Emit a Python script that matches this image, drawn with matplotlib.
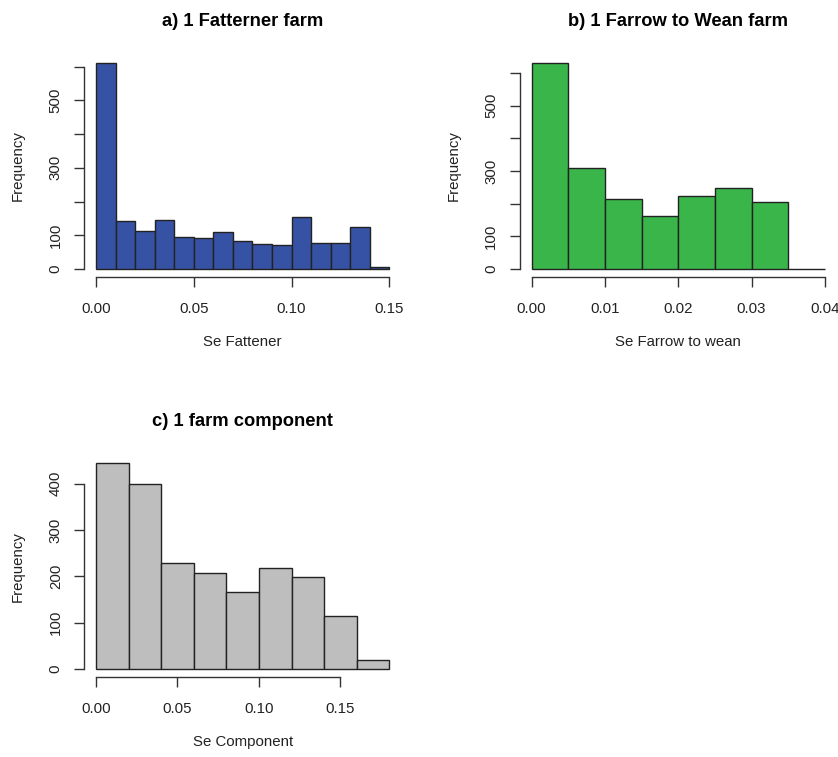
import numpy as np
import matplotlib.pyplot as plt

plt.rcParams["font.family"] = ["Liberation Sans", "DejaVu Sans"]

# a) fattener farm, bins of 0.01
fat_edges = [0.00, 0.01, 0.02, 0.03, 0.04, 0.05, 0.06, 0.07, 0.08,
             0.09, 0.10, 0.11, 0.12, 0.13, 0.14, 0.15]
fat_counts = [611, 143, 114, 146, 96, 92, 110, 82, 75, 71, 153, 78, 78, 124, 7]

# b) farrow to wean farm, bins of 0.005
ftw_edges = [0.000, 0.005, 0.010, 0.015, 0.020, 0.025, 0.030, 0.035, 0.040]
ftw_counts = [630, 310, 213, 162, 224, 247, 206, 0]

# c) farm component, bins of 0.02
comp_edges = [0.00, 0.02, 0.04, 0.06, 0.08, 0.10, 0.12, 0.14, 0.16, 0.18]
comp_counts = [444, 399, 228, 208, 166, 219, 199, 114, 19]

panels = [
    ("a) 1 Fatterner farm", "Se Fattener", fat_edges, fat_counts, "#3652a4",
     [0.00, 0.05, 0.10, 0.15], ["0.00", "0.05", "0.10", "0.15"],
     [0, 100, 200, 300, 400, 500, 600], ["0", "100", "", "300", "", "500", ""],
     [84.3, 54.8]),
    ("b) 1 Farrow to Wean farm", "Se Farrow to wean", ftw_edges, ftw_counts, "#3ab54a",
     [0.00, 0.01, 0.02, 0.03, 0.04], ["0.00", "0.01", "0.02", "0.03", "0.04"],
     [0, 100, 200, 300, 400, 500, 600], ["0", "100", "", "300", "", "500", ""],
     [519.9, 54.8]),
    ("c) 1 farm component", "Se Component", comp_edges, comp_counts, "#bebebe",
     [0.00, 0.05, 0.10, 0.15], ["0.00", "0.05", "0.10", "0.15"],
     [0, 100, 200, 300, 400], ["0", "100", "200", "300", "400"],
     [84.3, 455.0]),
]

W, H = 838, 757
fig = plt.figure(figsize=(W / 100, H / 100), dpi=100)

aw, ah = 316.7, 222.4
for title, xlabel, edges, counts, color, xt, xtl, yt, ytl, (left, top) in panels:
    ax = fig.add_axes([left / W, 1 - (top + ah) / H, aw / W, ah / H])
    ax.hist(edges[:-1], bins=edges, weights=counts, color=color,
            edgecolor="#222222", linewidth=1.0)

    # R style axis extension of 4 %
    x0, x1 = min(edges[0], xt[0]), max(edges[-1], xt[-1])
    dx = 0.04 * (x1 - x0)
    ymax = max(counts)
    ax.set_xlim(x0 - dx, x1 + dx)
    ax.set_ylim(-0.04 * ymax, 1.04 * ymax)

    for s in ["top", "right"]:
        ax.spines[s].set_visible(False)
    ax.spines["bottom"].set_bounds(xt[0], xt[-1])
    ax.spines["left"].set_bounds(yt[0], yt[-1])
    for s in ["bottom", "left"]:
        ax.spines[s].set_color("#333333")
        ax.spines[s].set_linewidth(1.0)

    ax.set_xticks(xt)
    ax.set_xticklabels(xtl)
    ax.set_yticks(yt)
    ax.set_yticklabels(ytl, rotation=90, va="center")
    ax.tick_params(axis="both", direction="out", length=7.5, width=1.0,
                   color="#333333", labelsize=10.8, labelcolor="#222222")
    ax.tick_params(axis="x", pad=10)
    ax.tick_params(axis="y", pad=8)

    ax.set_title(title, fontsize=13.2, fontweight="bold", pad=21)
    ax.set_xlabel(xlabel, fontsize=10.8, labelpad=14, color="#222222")
    ax.set_ylabel("Frequency", fontsize=10.8, labelpad=17, color="#222222")

fig.savefig("out.png", dpi=100)
